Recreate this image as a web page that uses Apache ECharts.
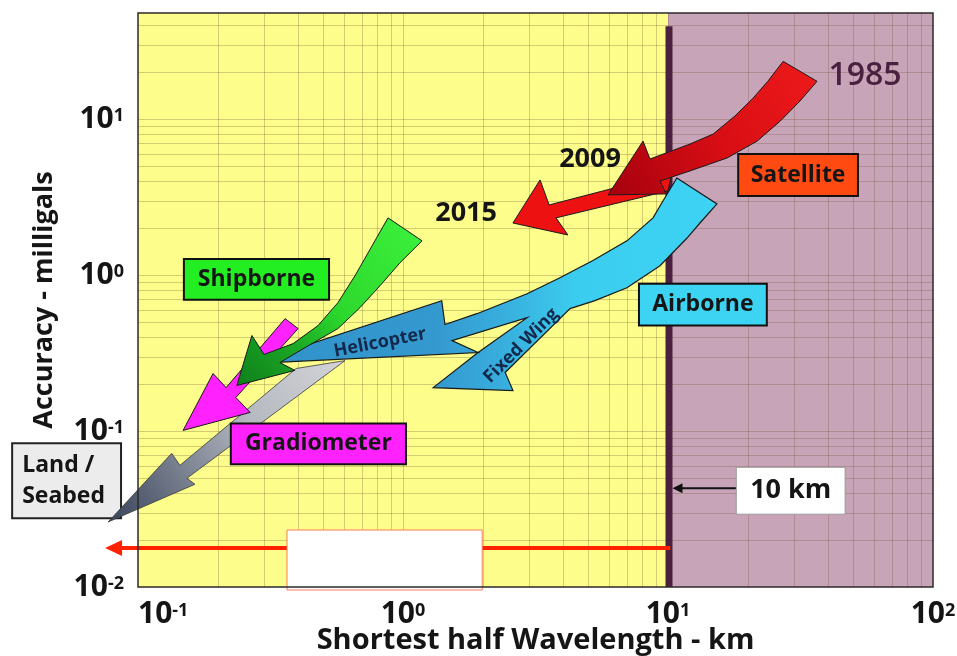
<!DOCTYPE html>
<html>
<head>
<meta charset="utf-8">
<script src="https://cdn.jsdelivr.net/npm/echarts@6/dist/echarts.min.js"></script>
<style>
html,body{margin:0;padding:0;background:#ffffff;}
#c{width:957px;height:656px;}
</style>
</head>
<body>
<div id="c"></div>
<script>
// ---------- data (km on x, milligals on y) ----------
const xTicks = [0.1, 1, 10, 100];
const yTicks = [0.01, 0.1, 1, 10];
const xRange = [0.1, 100];
const yRange = [0.01, 48];
const boundaryKm = 10;
const boundaryTop = 39.4;

const satellite1985 = [[27.2,23.5],[36.5,17.5],[31.5,13.1],[26.5,9.72],[21.7,7.24],[16.7,5.64],[12.1,4.66],[9.33,4.02],[9.83,3.32],[5.94,3.27],[8.05,7.24],[8.55,5.56],[12.1,6.93],[14.8,8.03],[17.9,10.5],[20.9,13.6],[23.8,17.5]];
const satellite2015 = [[10.35,4.52],[10.0,3.47],[3.78,2.33],[4.19,1.81],[2.60,2.16],[3.29,4.08],[3.56,2.82]];
const airborne = [[10.8,4.20],[15.3,2.86],[13.2,2.16],[11.8,1.73],[9.33,1.15],[7.00,0.831],[5.30,0.686],[4.27,0.610],[2.43,0.2375],[2.60,0.182],[1.30,0.190],[1.92,0.319],[2.94,0.534],[1.53,0.380],[1.92,0.319],[0.265,0.271],[1.40,0.686],[1.44,0.482],[1.90,0.566],[2.94,0.760],[3.91,0.962],[5.21,1.24],[7.00,1.66],[8.78,2.33],[9.57,2.99]];
const shipborne = [[0.878,2.33],[1.18,1.66],[0.974,1.20],[0.819,0.856],[0.688,0.619],[0.568,0.454],[0.427,0.343],[0.343,0.275],[0.391,0.245],[0.236,0.196],[0.269,0.410],[0.299,0.310],[0.385,0.364],[0.478,0.475],[0.568,0.666],[0.659,0.991],[0.764,1.54]];
const gradiometer = [[0.359,0.526],[0.402,0.454],[0.234,0.164],[0.265,0.1317],[0.148,0.101],[0.192,0.234],[0.215,0.190]];
const landSeabed = [[0.395,0.252],[0.604,0.283],[0.153,0.0498],[0.164,0.0456],[0.0771,0.0261],[0.134,0.0720],[0.144,0.0603]];

const boxNames = ['Shipborne','Satellite','Airborne','Gradiometer','Land /\nSeabed','10 km'];
const boxX = [[0.149,0.526],[18.4,52.1],[7.77,23.6],[0.224,1.026],[0.0335,0.0863],[18.1,46.6]];
const boxY = [[1.27,0.696],[5.98,3.22],[0.881,0.475],[0.112,0.0612],[0.0834,0.0276],[0.0586,0.0293]];

const yearNames = ['1985','2009','2015'];
const yearPos = [[55.4,18.9],[5.08,5.56],[1.73,2.51]];

const arrowNames = ['Helicopter','Fixed Wing'];
const arrowNamePos = [[0.819,0.369],[2.79,0.353]];
const arrowNameAngle = [11, 45];

const rangeArrowX = [10.2, 0.0751];
const rangeArrowY = 0.0178;
const rangeBoxX = [0.365, 1.99];
const rangeBoxY = [0.0232, 0.00957];
const tenKmArrowX = [18.1, 10.4];
const tenKmArrowY = 0.043;

// ---------- styles ----------
const FONT = '"Open Sans"';
const YELLOW = '#FDFD8B';
const PINK = '#C8A4B8';
const STROKE = '#1a1a1a';
const G = echarts.graphic.LinearGradient;

const boxFill = ['#22EE22','#FF4A12','#3DD3F2','#FF22FF','#ECECEC','#FFFFFF'];
const boxStroke = ['#111','#111','#111','#111','#222','#999'];
const boxLW = [2,2,2,2,2,1];

function powLabel(v){
  const l = Math.log10(v);
  const e = Math.round(l);
  if (Math.abs(l - e) > 0.02) return '';
  return '{b|10}{s|' + e + '}';
}

function poly(name, pts, style, z){
  return {
    type:'custom', name:name, z:z, silent:true, clip:false,
    data: pts,
    renderItem: function(params, api){
      if (params.dataIndex !== 0) return null;
      return {type:'polygon', shape:{points: pts.map(p => api.coord(p))}, style: style};
    }
  };
}

const series = [];

// backgrounds + grid lines + boundary
series.push({
  type:'custom', name:'background', z:1, silent:true, clip:false,
  data:[[xRange[0], yRange[0]]],
  renderItem: function(params, api){
    const tl = api.coord([xRange[0], yRange[1]]);
    const br = api.coord([xRange[1], yRange[0]]);
    const bx = api.coord([boundaryKm, yRange[0]])[0];
    const kids = [];
    kids.push({type:'rect', shape:{x:tl[0], y:tl[1], width:bx-tl[0], height:br[1]-tl[1]}, style:{fill:YELLOW}});
    kids.push({type:'rect', shape:{x:bx, y:tl[1], width:br[0]-bx, height:br[1]-tl[1]}, style:{fill:PINK}});
    const lc = 'rgba(110,80,50,0.28)';
    for (let d = Math.log10(xRange[0]); d < Math.log10(xRange[1]); d++){
      for (let k = 1; k <= 9; k++){
        const v = k*Math.pow(10,d);
        if (v <= xRange[0] || v >= xRange[1]) continue;
        const x = Math.round(api.coord([v, yRange[0]])[0]) + 0.5;
        kids.push({type:'line', shape:{x1:x, y1:tl[1], x2:x, y2:br[1]}, style:{stroke:lc, lineWidth:1}});
      }
    }
    for (let d = Math.log10(yRange[0]); d < 2; d++){
      for (let k = 1; k <= 9; k++){
        const v = k*Math.pow(10,d);
        if (v <= yRange[0] || v >= yRange[1]) continue;
        const y = Math.round(api.coord([xRange[0], v])[1]) + 0.5;
        kids.push({type:'line', shape:{x1:tl[0], y1:y, x2:br[0], y2:y}, style:{stroke:lc, lineWidth:1}});
      }
    }
    const b0 = api.coord([boundaryKm, yRange[0]]);
    const b1 = api.coord([boundaryKm, boundaryTop]);
    kids.push({type:'line', shape:{x1:b0[0]+1, y1:b0[1], x2:b1[0]+1, y2:b1[1]}, style:{stroke:'#4A1F3F', lineWidth:7}});
    return {type:'group', children:kids};
  }
});

// bottom range arrow, white box, 10 km arrow
series.push({
  type:'custom', name:'annotations', z:2, silent:true, clip:false,
  data:[[rangeArrowX[0], rangeArrowY]],
  renderItem: function(params, api){
    const kids = [];
    const a0 = api.coord([rangeArrowX[0], rangeArrowY]);
    const a1 = api.coord([rangeArrowX[1], rangeArrowY]);
    kids.push({type:'line', shape:{x1:a0[0], y1:a0[1], x2:a1[0]+12, y2:a1[1]}, style:{stroke:'#FF2200', lineWidth:4}});
    kids.push({type:'polygon', shape:{points:[a1,[a1[0]+17,a1[1]-8],[a1[0]+17,a1[1]+8]]}, style:{fill:'#FF2200'}});
    const r0 = api.coord([rangeBoxX[0], rangeBoxY[0]]);
    const r1 = api.coord([rangeBoxX[1], rangeBoxY[1]]);
    kids.push({type:'rect', shape:{x:r0[0], y:r0[1], width:r1[0]-r0[0], height:r1[1]-r0[1]}, style:{fill:'#FFFFFF', stroke:'#FF7A5A', lineWidth:1}});
    const t0 = api.coord([tenKmArrowX[0], tenKmArrowY]);
    const t1 = api.coord([tenKmArrowX[1], tenKmArrowY]);
    kids.push({type:'line', shape:{x1:t0[0], y1:t0[1], x2:t1[0]+6, y2:t1[1]}, style:{stroke:'#111', lineWidth:2}});
    kids.push({type:'polygon', shape:{points:[t1,[t1[0]+10,t1[1]-5],[t1[0]+10,t1[1]+5]]}, style:{fill:'#111'}});
    return {type:'group', children:kids};
  }
});

function boxSeries(i, z){
  return {
    type:'custom', name:'box-'+i, z:z, silent:true, clip:false,
    data:[[boxX[i][0], boxY[i][0]]],
    renderItem: function(params, api){
      const p0 = api.coord([boxX[i][0], boxY[i][0]]);
      const p1 = api.coord([boxX[i][1], boxY[i][1]]);
      const fs = i === 5 ? 27 : 23;
      const multi = boxNames[i].indexOf('\n') >= 0;
      return {type:'group', children:[
        {type:'rect', shape:{x:p0[0], y:p0[1], width:p1[0]-p0[0], height:p1[1]-p0[1]}, style:{fill:boxFill[i], stroke:boxStroke[i], lineWidth:boxLW[i]}},
        {type:'text', x: multi ? p0[0] + 10 : (p0[0]+p1[0])/2, y:(p0[1]+p1[1])/2,
          style:{text:boxNames[i], align: multi ? 'left' : 'center', verticalAlign:'middle', font:'bold '+fs+'px '+FONT, fill:'#151515', lineHeight:31}}
      ]};
    }
  };
}
series.push(boxSeries(4, 3));
series.push(boxSeries(5, 3));

// arrows
series.push(poly('Satellite 2015', satellite2015, {fill:'#EE1111', stroke:STROKE, lineWidth:1}, 4));
series.push(poly('Satellite 1985', satellite1985, {fill:new G(1,0,0,1,[{offset:0,color:'#EE1A1A'},{offset:0.5,color:'#D80E14'},{offset:1,color:'#A5000E'}]), stroke:STROKE, lineWidth:1}, 5));
series.push(poly('Land / Seabed', landSeabed, {fill:new G(1,0,0,1,[{offset:0,color:'#D4D4D8'},{offset:0.4,color:'#B4B8C0'},{offset:1,color:'#38435A'}]), stroke:'#3a3a3a', lineWidth:0.8}, 6));
series.push(poly('Gradiometer', gradiometer, {fill:'#FF22FF', stroke:STROKE, lineWidth:1}, 7));
series.push(poly('Airborne', airborne, {fill:new G(1,0,0,0,[{offset:0,color:'#3DD3F4'},{offset:0.3,color:'#3BCDEF'},{offset:0.46,color:'#38AEDD'},{offset:0.6,color:'#3499CF'},{offset:1,color:'#3192C8'}]), stroke:STROKE, lineWidth:1.2}, 8));
series.push(poly('Shipborne', shipborne, {fill:new G(1,0,0,1,[{offset:0,color:'#3EF23E'},{offset:0.5,color:'#2CD82C'},{offset:0.72,color:'#1BA825'},{offset:1,color:'#0E7F1A'}]), stroke:STROKE, lineWidth:1}, 9));

// labels on arrows and years
series.push({
  type:'custom', name:'texts', z:10, silent:true, clip:false,
  data:[[yearPos[0][0], yearPos[0][1]]],
  renderItem: function(params, api){
    const kids = [];
    yearNames.forEach(function(t, i){
      const p = api.coord(yearPos[i]);
      kids.push({type:'text', x:p[0], y:p[1], style:{text:t, align:'center', verticalAlign:'middle',
        font:(i === 0 ? '600 32px ' : 'bold 27px ') + FONT, fill:(i === 0 ? '#4A2040' : '#151515')}});
    });
    arrowNames.forEach(function(t, i){
      const p = api.coord(arrowNamePos[i]);
      kids.push({type:'text', x:p[0], y:p[1], rotation:arrowNameAngle[i]*Math.PI/180,
        style:{text:t, align:'center', verticalAlign:'middle', font:'bold 18px '+FONT, fill:'#13284A'}});
    });
    return {type:'group', children:kids};
  }
});

[0,1,2,3].forEach(function(i){ series.push(boxSeries(i, 11)); });

// frame
series.push({
  type:'custom', name:'frame', z:12, silent:true, clip:false,
  data:[[xRange[0], yRange[0]]],
  renderItem: function(params, api){
    const tl = api.coord([xRange[0], yRange[1]]);
    const br = api.coord([xRange[1], yRange[0]]);
    return {type:'rect', shape:{x:tl[0], y:tl[1], width:br[0]-tl[0], height:br[1]-tl[1]}, style:{fill:'none', stroke:'#2a2a2a', lineWidth:1.5}};
  }
});

const labelRich = {
  b:{fontFamily:'Open Sans', fontWeight:'bold', fontSize:30, color:'#151515'},
  s:{fontFamily:'Open Sans', fontWeight:'bold', fontSize:18, color:'#151515', verticalAlign:'top', padding:[3,0,0,0]}
};

const option = {
  animation:false,
  backgroundColor:'#ffffff',
  grid:{left:138, right:24, top:13, bottom:69, containLabel:false, outerBoundsMode:'none'},
  xAxis:{
    type:'log', logBase:10, min:xRange[0], max:xRange[1],
    axisLine:{show:false}, axisTick:{show:false}, splitLine:{show:false},
    axisLabel:{formatter:powLabel, rich:labelRich, margin:12, alignMinLabel:'left', alignMaxLabel:'center'},
    name:'Shortest half Wavelength - km', nameLocation:'middle', nameGap:39, nameMoveOverlap:false,
    nameTextStyle:{fontFamily:'Open Sans', fontWeight:'bold', fontSize:29, color:'#151515'}
  },
  yAxis:{
    type:'log', logBase:10, min:yRange[0], max:yRange[1],
    axisLine:{show:false}, axisTick:{show:false}, splitLine:{show:false},
    axisLabel:{formatter:powLabel, rich:labelRich, margin:14, showMaxLabel:false},
    name:'Accuracy - milligals', nameLocation:'middle', nameGap:80, nameRotate:90,
    nameTextStyle:{fontFamily:'Open Sans', fontWeight:'bold', fontSize:27, color:'#151515'}
  },
  series: series
};

const chart = echarts.init(document.getElementById('c'));
chart.setOption(option);
</script>
</body>
</html>
